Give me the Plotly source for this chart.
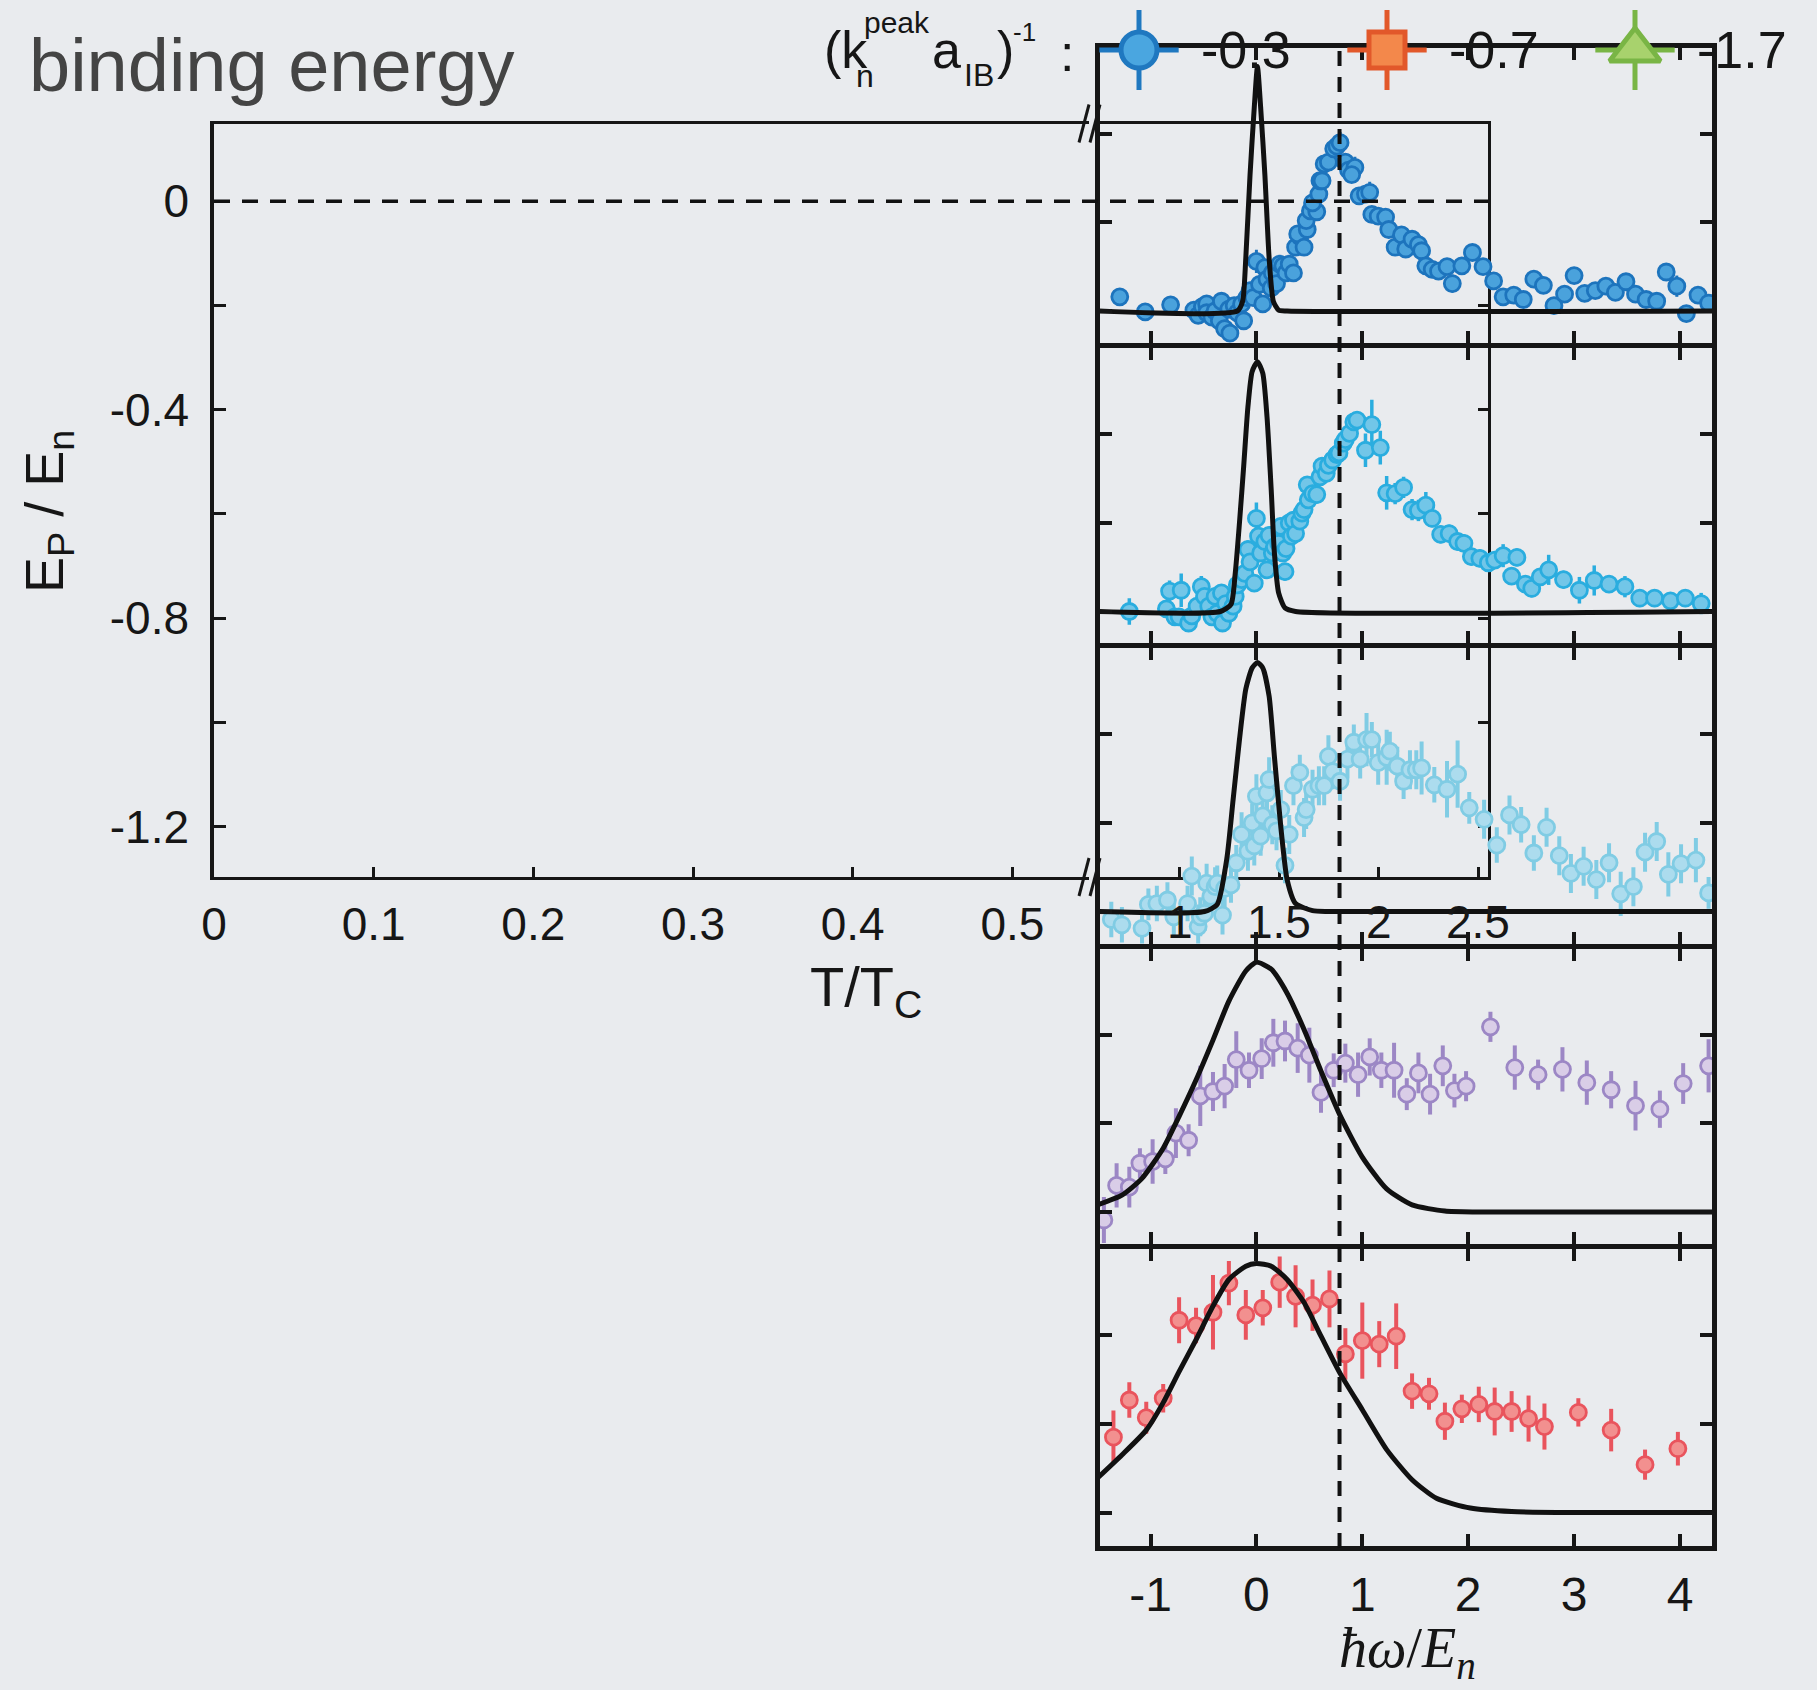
import plotly.graph_objects as go

W, H = 1817, 1690


def fx(p):
    return p / W


def fy(p):
    return 1 - p / H


# ---------------- data ----------------
T_TICKS_LEFT = [0, 0.1, 0.2, 0.3, 0.4, 0.5]
T_TICKS_RIGHT = [1, 1.5, 2, 2.5]
EP_TICKS = [-1.2, -1.0, -0.8, -0.6, -0.4, -0.2, 0.0]
EP_TICKTEXT = ["-1.2", "", "-0.8", "", "-0.4", "", "0"]
W_TICKS = [-1, 0, 1, 2, 3, 4]
SPEC_TICKS = [0, 1, 2]
DASH_OMEGA = 0.785          # vertical dashed marker on the spectra
LEGEND_VALUES = ["-0.3", "-0.7", "-1.7"]

# panel 1 (dark blue)
p1_x = [-1.29, -1.05, -0.81, -0.59, -0.55, -0.51, -0.47, -0.47, -0.42, -0.39,
        -0.35, -0.33, -0.30, -0.25, -0.26, -0.21, -0.18, -0.12, -0.14, -0.09,
        -0.06, -0.03, 0.00, 0.03, 0.06, 0.08, 0.10, 0.14, 0.15, 0.19,
        0.22, 0.25, 0.28, 0.31, 0.35, 0.37, 0.41, 0.39, 0.45, 0.48,
        0.47, 0.51, 0.57, 0.53, 0.59, 0.60, 0.62, 0.64, 0.68, 0.73,
        0.76, 0.79, 0.84, 0.87, 0.93, 0.90, 0.97, 1.03, 1.07, 1.09,
        1.15, 1.22, 1.25, 1.31, 1.37, 1.41, 1.47, 1.53, 1.56, 1.60,
        1.66, 1.72, 1.80, 1.85, 1.94, 2.04, 2.14, 2.24, 2.33, 2.43,
        2.52, 2.62, 2.71, 2.81, 2.91, 3.00, 3.10, 3.20, 3.30, 3.39,
        3.49, 3.58, 3.68, 3.78, 3.87, 3.97, 4.06, 4.17, 4.27]
p1_y = [0.16, -0.01, 0.07, 0.01, -0.05, 0.05, 0.08, -0.02, -0.07, 0.00,
        -0.11, 0.11, -0.20, -0.25, 0.02, 0.06, -0.02, -0.11, 0.08, 0.15,
        0.23, 0.15, 0.56, 0.30, 0.08, 0.49, 0.36, 0.26, 0.43, 0.31,
        0.53, 0.51, 0.43, 0.53, 0.43, 0.72, 0.84, 0.87, 0.72, 0.92,
        1.02, 1.13, 1.12, 1.22, 1.32, 1.47, 1.47, 1.66, 1.68, 1.83,
        1.86, 1.90, 1.68, 1.59, 1.62, 1.54, 1.30, 1.32, 1.34, 1.09,
        1.07, 1.06, 0.92, 0.72, 0.86, 0.70, 0.81, 0.75, 0.68, 0.51,
        0.47, 0.45, 0.50, 0.31, 0.51, 0.66, 0.50, 0.34, 0.16, 0.18,
        0.13, 0.36, 0.29, 0.06, 0.19, 0.40, 0.20, 0.23, 0.28, 0.21,
        0.33, 0.19, 0.13, 0.11, 0.44, 0.28, -0.03, 0.18, 0.09]
p1_e = [0.07, 0.09, 0.07, 0.06, 0.06, 0.06, 0.06, 0.06, 0.07, 0.07,
        0.07, 0.07, 0.07, 0.07, 0.06, 0.06, 0.06, 0.07, 0.07, 0.07,
        0.07, 0.07, 0.13, 0.08, 0.07, 0.08, 0.08, 0.08, 0.08, 0.08,
        0.08, 0.08, 0.08, 0.08, 0.08, 0.08, 0.08, 0.08, 0.08, 0.08,
        0.08, 0.08, 0.08, 0.08, 0.08, 0.08, 0.08, 0.08, 0.08, 0.09,
        0.09, 0.12, 0.09, 0.09, 0.12, 0.09, 0.09, 0.10, 0.12, 0.08,
        0.08, 0.08, 0.08, 0.08, 0.08, 0.09, 0.08, 0.08, 0.08, 0.08,
        0.08, 0.08, 0.08, 0.10, 0.08, 0.08, 0.08, 0.08, 0.08, 0.08,
        0.07, 0.08, 0.08, 0.07, 0.07, 0.08, 0.07, 0.08, 0.08, 0.07,
        0.08, 0.07, 0.07, 0.07, 0.08, 0.12, 0.08, 0.07, 0.07]

# panel 2 (cyan)
p2_x = [-1.20, -0.85, -0.82, -0.77, -0.73, -0.71, -0.64, -0.61, -0.56, -0.52,
        -0.49, -0.45, -0.42, -0.39, -0.37, -0.33, -0.32, -0.29, -0.26, -0.22,
        -0.20, -0.18, -0.14, -0.11, -0.08, -0.06, -0.02, 0.00, 0.02, 0.04,
        0.08, 0.10, 0.12, 0.15, 0.17, 0.21, 0.23, 0.25, 0.27, 0.28,
        0.31, 0.33, 0.35, 0.37, 0.41, 0.43, 0.45, 0.49, 0.48, 0.53,
        0.57, 0.60, 0.62, 0.66, 0.68, 0.72, 0.76, 0.78, 0.82, 0.84,
        0.88, 0.92, 0.95, 1.03, 1.09, 1.17, 1.23, 1.31, 1.39, 1.47,
        1.53, 1.60, 1.66, 1.74, 1.82, 1.90, 1.96, 2.03, 2.11, 2.19,
        2.25, 2.33, 2.41, 2.46, 2.54, 2.60, 2.68, 2.76, 2.90, 3.05,
        3.19, 3.33, 3.48, 3.62, 3.76, 3.91, 4.05, 4.20]
p2_y = [0.00, 0.03, 0.23, -0.06, -0.06, 0.24, -0.13, -0.05, 0.06, 0.28,
        0.17, 0.06, -0.06, 0.17, -0.02, 0.21, -0.13, 0.09, -0.02, 0.06,
        0.17, 0.30, 0.36, 0.43, 0.70, 0.56, 0.32, 1.05, 0.85, 0.66,
        0.79, 0.47, 0.86, 0.66, 0.73, 0.77, 0.96, 0.66, 0.45, 0.71,
        1.00, 0.85, 1.03, 0.88, 1.02, 1.11, 1.15, 1.26, 1.43, 1.33,
        1.32, 1.52, 1.64, 1.56, 1.65, 1.71, 1.77, 1.79, 1.90, 1.94,
        2.01, 2.14, 2.16, 1.82, 2.11, 1.85, 1.34, 1.33, 1.40, 1.15,
        1.14, 1.20, 1.05, 0.87, 0.88, 0.79, 0.77, 0.62, 0.60, 0.55,
        0.58, 0.63, 0.40, 0.61, 0.31, 0.26, 0.39, 0.47, 0.36, 0.24,
        0.35, 0.31, 0.28, 0.15, 0.15, 0.12, 0.15, 0.09]
p2_e = [0.15, 0.10, 0.12, 0.10, 0.10, 0.19, 0.10, 0.10, 0.10, 0.12,
        0.10, 0.10, 0.10, 0.10, 0.10, 0.10, 0.10, 0.10, 0.10, 0.10,
        0.10, 0.10, 0.10, 0.10, 0.10, 0.10, 0.10, 0.18, 0.10, 0.10,
        0.10, 0.10, 0.10, 0.10, 0.10, 0.10, 0.10, 0.10, 0.10, 0.10,
        0.10, 0.10, 0.10, 0.10, 0.10, 0.10, 0.10, 0.10, 0.10, 0.10,
        0.10, 0.10, 0.10, 0.10, 0.10, 0.10, 0.10, 0.10, 0.10, 0.10,
        0.10, 0.10, 0.10, 0.19, 0.28, 0.19, 0.19, 0.12, 0.12, 0.12,
        0.12, 0.15, 0.10, 0.10, 0.10, 0.10, 0.10, 0.10, 0.10, 0.10,
        0.10, 0.13, 0.10, 0.10, 0.10, 0.10, 0.10, 0.17, 0.10, 0.15,
        0.17, 0.10, 0.12, 0.10, 0.10, 0.10, 0.10, 0.12]

# panel 3 (light cyan)
p3_x = [-1.37, -1.27, -1.08, -1.02, -0.94, -0.84, -0.78, -0.65, -0.61, -0.55,
        -0.53, -0.49, -0.47, -0.43, -0.39, -0.37, -0.32, -0.30, -0.24, -0.19,
        -0.14, -0.08, -0.04, -0.02, 0.00, 0.04, 0.06, 0.10, 0.12, 0.15,
        0.19, 0.23, 0.27, 0.31, 0.35, 0.41, 0.45, 0.47, 0.53, 0.59,
        0.64, 0.68, 0.72, 0.79, 0.86, 0.92, 0.98, 1.04, 1.09, 1.15,
        1.23, 1.26, 1.33, 1.39, 1.45, 1.51, 1.56, 1.68, 1.80, 1.90,
        2.01, 2.15, 2.27, 2.39, 2.50, 2.62, 2.74, 2.86, 2.97, 3.09,
        3.21, 3.33, 3.44, 3.56, 3.67, 3.78, 3.89, 4.01, 4.15, 4.27]
p3_y = [-0.09, -0.15, -0.19, 0.08, 0.09, 0.13, -0.06, 0.09, 0.40, -0.17,
        -0.06, -0.02, 0.32, 0.17, 0.28, 0.32, -0.04, 0.26, 0.30, 0.55,
        0.87, 0.68, 1.00, 0.74, 1.30, 0.85, 1.08, 1.34, 1.49, 0.98,
        0.91, 1.15, 0.52, 0.87, 1.42, 1.57, 1.06, 1.15, 1.38, 1.42,
        1.42, 1.75, 1.58, 1.47, 1.72, 1.91, 1.72, 1.94, 1.94, 1.68,
        1.74, 1.81, 1.64, 1.47, 1.60, 1.60, 1.62, 1.43, 1.38, 1.55,
        1.17, 1.04, 0.75, 1.09, 0.98, 0.66, 0.95, 0.63, 0.43, 0.51,
        0.36, 0.55, 0.20, 0.28, 0.67, 0.79, 0.42, 0.54, 0.58, 0.21]
p3_e = [0.20, 0.20, 0.20, 0.18, 0.20, 0.20, 0.22, 0.20, 0.22, 0.25,
        0.22, 0.20, 0.22, 0.20, 0.22, 0.20, 0.22, 0.22, 0.20, 0.20,
        0.25, 0.22, 0.22, 0.22, 0.25, 0.22, 0.25, 0.22, 0.25, 0.22,
        0.22, 0.22, 0.20, 0.22, 0.22, 0.20, 0.22, 0.22, 0.22, 0.22,
        0.22, 0.24, 0.20, 0.22, 0.22, 0.20, 0.22, 0.30, 0.20, 0.25,
        0.31, 0.22, 0.22, 0.20, 0.22, 0.22, 0.30, 0.20, 0.32, 0.38,
        0.18, 0.22, 0.20, 0.22, 0.20, 0.20, 0.22, 0.22, 0.22, 0.22,
        0.22, 0.22, 0.25, 0.22, 0.22, 0.22, 0.25, 0.22, 0.25, 0.18]

# panel 4 (purple)
p4_x = [-1.44, -1.32, -1.20, -1.10, -0.98, -0.86, -0.76, -0.64, -0.53, -0.41,
        -0.30, -0.19, -0.07, 0.05, 0.16, 0.27, 0.39, 0.50, 0.61, 0.73,
        0.84, 0.96, 1.07, 1.18, 1.30, 1.42, 1.53, 1.64, 1.76, 1.87,
        1.98, 2.21, 2.44, 2.66, 2.89, 3.12, 3.35, 3.58, 3.81, 4.03, 4.27]
p4_y = [-0.09, 0.30, 0.28, 0.55, 0.57, 0.60, 0.89, 0.81, 1.31, 1.36,
        1.42, 1.72, 1.60, 1.73, 1.91, 1.93, 1.85, 1.77, 1.35, 1.60,
        1.68, 1.55, 1.75, 1.60, 1.60, 1.33, 1.57, 1.33, 1.65, 1.37,
        1.42, 2.09, 1.63, 1.55, 1.61, 1.46, 1.38, 1.20, 1.16, 1.45, 1.65]
p4_e = [0.26, 0.25, 0.23, 0.17, 0.25, 0.17, 0.28, 0.18, 0.34, 0.22,
        0.25, 0.32, 0.20, 0.23, 0.27, 0.23, 0.28, 0.31, 0.23, 0.19,
        0.22, 0.25, 0.21, 0.20, 0.31, 0.18, 0.23, 0.23, 0.23, 0.19,
        0.17, 0.17, 0.25, 0.17, 0.25, 0.25, 0.21, 0.28, 0.21, 0.23, 0.30]

# panel 5 (red)
p5_x = [-1.35, -1.20, -1.04, -0.88, -0.73, -0.57, -0.41, -0.26, -0.10, 0.06,
        0.22, 0.37, 0.53, 0.69, 0.84, 1.00, 1.16, 1.32, 1.47, 1.63,
        1.78, 1.94, 2.10, 2.25, 2.41, 2.57, 2.72, 3.04, 3.35, 3.67, 3.98]
p5_y = [0.85, 1.27, 1.07, 1.29, 2.17, 2.11, 2.26, 2.59, 2.23, 2.31,
        2.60, 2.44, 2.34, 2.41, 1.79, 1.94, 1.90, 1.99, 1.37, 1.34,
        1.03, 1.17, 1.22, 1.14, 1.14, 1.06, 0.97, 1.13, 0.93, 0.54, 0.72]
p5_e = [0.30, 0.20, 0.18, 0.16, 0.26, 0.20, 0.42, 0.25, 0.28, 0.20,
        0.29, 0.35, 0.29, 0.32, 0.29, 0.43, 0.26, 0.37, 0.20, 0.18,
        0.21, 0.16, 0.20, 0.27, 0.23, 0.26, 0.26, 0.16, 0.24, 0.17, 0.19]

# theory curves
c1_x = [-1.5, -0.18, -0.13, -0.10, -0.06, -0.02, 0.01, 0.04, 0.08, 0.12, 0.16, 0.21, 0.29, 4.32]
c1_y = [0, 0, 0.11, 0.60, 1.54, 2.30, 2.76, 2.30, 1.54, 0.60, 0.11, 0.01, 0, 0]
c2_x = [-1.5, -0.34, -0.24, -0.20, -0.16, -0.12, -0.08, -0.04, 0.01, 0.06, 0.10, 0.14, 0.17, 0.21, 0.27, 0.37, 4.32]
c2_y = [0, 0, 0.08, 0.43, 1.00, 1.64, 2.31, 2.71, 2.82, 2.69, 2.20, 1.37, 0.66, 0.21, 0.04, 0, 0]
c3_x = [-1.5, -0.49, -0.37, -0.28, -0.22, -0.16, -0.10, -0.04, 0.01, 0.06, 0.12, 0.17, 0.23, 0.29, 0.37, 0.53, 0.68, 4.32]
c3_y = [0, 0, 0.08, 0.59, 1.26, 1.94, 2.51, 2.75, 2.81, 2.75, 2.43, 1.75, 0.96, 0.36, 0.09, 0.01, 0, 0]
c4_x = [-1.5, -1.27, -1.08, -0.88, -0.73, -0.57, -0.41, -0.26, -0.10, 0.0, 0.14, 0.29, 0.45, 0.61, 0.79, 1.0, 1.23, 1.47, 1.78, 2.09, 4.32]
c4_y = [0.08, 0.19, 0.38, 0.72, 1.08, 1.49, 1.94, 2.38, 2.72, 2.82, 2.74, 2.47, 2.06, 1.59, 1.09, 0.62, 0.26, 0.08, 0.01, 0, 0]
c5_x = [-1.5, -1.27, -1.04, -0.88, -0.73, -0.57, -0.41, -0.26, -0.10, 0.0, 0.14, 0.29, 0.45, 0.61, 0.79, 1.0, 1.23, 1.47, 1.70, 2.02, 2.41, 3.03, 4.32]
c5_y = [0.39, 0.65, 0.93, 1.24, 1.59, 1.95, 2.33, 2.63, 2.78, 2.81, 2.78, 2.63, 2.37, 1.99, 1.57, 1.16, 0.71, 0.37, 0.16, 0.05, 0.01, 0, 0]

# ---------------- styling ----------------
FONT = "Liberation Sans, Arial, Helvetica, sans-serif"
INK = "#161616"
BG = "#e9ebee"

panels = [
    dict(x=p1_x, y=p1_y, e=p1_e, cx=c1_x, cy=c1_y, edge="#1d74bd", fill="#4aa2dc", et=3),
    dict(x=p2_x, y=p2_y, e=p2_e, cx=c2_x, cy=c2_y, edge="#2aaddf", fill="#72c6e8", et=3.5),
    dict(x=p3_x, y=p3_y, e=p3_e, cx=c3_x, cy=c3_y, edge="#80cce4", fill="#acdcee", et=4),
    dict(x=p4_x, y=p4_y, e=p4_e, cx=c4_x, cy=c4_y, edge="#9c87c5", fill="#d9cde7", et=4),
    dict(x=p5_x, y=p5_y, e=p5_e, cx=c5_x, cy=c5_y, edge="#e9545d", fill="#f2908f", et=4),
]
legend_styles = [
    dict(symbol="circle", size=36, edge="#1f78c0", fill="#4aa6e0"),
    dict(symbol="square", size=36, edge="#e2582a", fill="#f3884b"),
    dict(symbol="triangle-up", size=44, edge="#79b545", fill="#a8d26d"),
]

# geometry (pixels of the 1817x1690 canvas)
LEFT_L, LEFT_BRK, LEFT_R0, LEFT_R = 214, 1089, 1097, 1488
LEFT_TOP, LEFT_BOT = 123.5, 877
LEFT_LABEL_Y = 922
R_L, R_R = 1097, 1714.5
R_EDGES = [45, 345.5, 645.5, 946, 1246.5, 1548]
R_LW = 5
HALF = R_LW / 2

fig = go.Figure()

for k, p in enumerate(panels):
    ax = k + 3
    fig.add_trace(go.Scatter(
        x=p["x"], y=p["y"], mode="markers", xaxis=f"x{ax}", yaxis=f"y{ax}",
        marker=dict(size=16, color=p["fill"], line=dict(color=p["edge"], width=2.8)),
        error_y=dict(type="data", array=p["e"], visible=True, color=p["edge"],
                     thickness=p["et"], width=0),
        showlegend=False, hoverinfo="skip"))
    fig.add_trace(go.Scatter(
        x=p["cx"], y=p["cy"], mode="lines", xaxis=f"x{ax}", yaxis=f"y{ax}",
        line=dict(color="#111111", width=5, shape="spline", smoothing=0.6),
        showlegend=False, hoverinfo="skip"))

# legend glyphs (marker + line + error bar, MATLAB style)
for i, st in enumerate(legend_styles):
    fig.add_trace(go.Scatter(
        x=[i], y=[0], mode="markers", xaxis="x8", yaxis="y8",
        marker=dict(symbol=st["symbol"], size=st["size"], color=st["fill"],
                    line=dict(color=st["edge"], width=5)),
        error_x=dict(type="constant", value=0.16, color=st["edge"], thickness=5, width=0),
        error_y=dict(type="constant", value=1, color=st["edge"], thickness=5, width=0),
        showlegend=False, hoverinfo="skip"))

tickfont_left = dict(family=FONT, size=46, color=INK)
common_left = dict(showline=True, linecolor=INK, ticks="inside",
                   tickcolor=INK, tickwidth=3, showgrid=False, zeroline=False,
                   tickfont=tickfont_left, fixedrange=True, automargin=False)

layout = dict(
    width=W, height=H, autosize=False,
    margin=dict(l=0, r=0, t=0, b=0, pad=0, autoexpand=False),
    paper_bgcolor=BG, plot_bgcolor="rgba(0,0,0,0)",
    showlegend=False,
    xaxis=dict(domain=[fx(LEFT_L), fx(LEFT_BRK)], range=[0, 0.548], anchor="y",
               mirror=True, linewidth=3, ticklen=10, tickvals=T_TICKS_LEFT,
               ticktext=[f"{v:g}" for v in T_TICKS_LEFT], ticklabelstandoff=5,
               **common_left),
    yaxis=dict(domain=[fy(LEFT_BOT), fy(LEFT_TOP)], range=[-1.297, 0.149], anchor="x",
               mirror=False, linewidth=3.5, ticklen=12, tickvals=EP_TICKS, ticktext=EP_TICKTEXT,
               ticklabelstandoff=12, **common_left),
    xaxis2=dict(domain=[fx(LEFT_R0), fx(LEFT_R)], range=[0.585, 2.55], anchor="y2",
                mirror=True, linewidth=2.5, ticklen=10, tickvals=T_TICKS_RIGHT,
                showticklabels=False, **common_left),
    yaxis2=dict(domain=[fy(LEFT_BOT), fy(LEFT_TOP)], range=[-1.297, 0.149], anchor="x2",
                side="right", linewidth=2.5, ticklen=10, tickvals=EP_TICKS,
                showticklabels=False, **common_left),
    xaxis8=dict(domain=[fx(1015), fx(1759)], range=[-0.5, 2.5], anchor="y8",
                visible=False, fixedrange=True, automargin=False),
    yaxis8=dict(domain=[fy(90), fy(10)], range=[-1, 1], anchor="x8",
                visible=False, fixedrange=True, automargin=False),
)

# spectra axes: the axis line is drawn just outside the domain, so inset the
# domains by half a line width so that neighbouring frames share one line
PX_PER_W = 105.9          # pixels per unit of hbar*omega/E_n
W0_PX = 1256.4            # pixel column of hbar*omega = 0
PX_PER_S = 88.6           # pixels per unit of signal
for k in range(5):
    ax = k + 3
    top, bot = R_EDGES[k] + HALF, R_EDGES[k + 1] - HALF
    base = R_EDGES[k] + 266
    left, right = R_L + HALF, R_R - HALF
    layout[f"xaxis{ax}"] = dict(
        domain=[fx(left), fx(right)],
        range=[(left - W0_PX) / PX_PER_W, (right - W0_PX) / PX_PER_W], anchor=f"y{ax}",
        showline=True, linecolor=INK, linewidth=R_LW, mirror="ticks",
        ticks="inside", ticklen=12, tickwidth=4, tickcolor=INK,
        tickvals=W_TICKS, ticktext=[f"{v:g}" for v in W_TICKS],
        showticklabels=(k == 4), ticklabelstandoff=3,
        tickfont=dict(family=FONT, size=48, color=INK),
        showgrid=False, zeroline=False, fixedrange=True, automargin=False)
    layout[f"yaxis{ax}"] = dict(
        domain=[fy(bot), fy(top)],
        range=[-(bot - base) / PX_PER_S, (base - top) / PX_PER_S], anchor=f"x{ax}",
        showline=True, linecolor=INK, linewidth=R_LW, mirror="ticks",
        ticks="inside", ticklen=12, tickwidth=4, tickcolor=INK,
        tickvals=SPEC_TICKS, showticklabels=False,
        showgrid=False, zeroline=False, fixedrange=True, automargin=False)

fig.update_layout(**layout)

# ---------------- shapes ----------------
shapes = []
# zero line of the binding energy panel
shapes.append(dict(type="line", xref="paper", yref="y", x0=fx(LEFT_L), x1=fx(LEFT_R),
                   y0=0, y1=0, line=dict(color="#111111", width=3.5, dash="16px,12px")))
# vertical dashed marker through all spectra
shapes.append(dict(type="line", xref="x3", yref="paper", x0=DASH_OMEGA, x1=DASH_OMEGA,
                   y0=fy(R_EDGES[-1]), y1=fy(47),
                   line=dict(color="#111111", width=4, dash="15px,11px")))
# axis break marks "//"
for yc in (LEFT_TOP, LEFT_BOT):
    for xc in (1084, 1095):
        shapes.append(dict(type="line", xref="paper", yref="paper",
                           x0=fx(xc - 5), x1=fx(xc + 5), y0=fy(yc + 19), y1=fy(yc - 19),
                           line=dict(color=INK, width=3)))
fig.update_layout(shapes=shapes)

# ---------------- text ----------------
ann = []


def add_text(text, x, y, size, xanchor="left", color=INK, family=FONT, **kw):
    ann.append(dict(text=text, x=fx(x), y=fy(y), xref="paper", yref="paper",
                    xanchor=xanchor, yanchor="middle", showarrow=False,
                    font=dict(family=family, size=size, color=color), **kw))


add_text("binding energy", 27, 66, 74, color="#444444")
# legend prefix (k_n^peak a_IB)^-1 :
add_text("(k", 822, 50, 52)
add_text("n", 854, 76, 32)
add_text("peak", 862, 22, 30)
add_text("a", 930, 50, 52)
add_text("IB", 962, 75, 32)
add_text(")", 995, 50, 52)
add_text("-1", 1011, 32, 26)
add_text(":", 1058, 53, 52)
for i, lab in enumerate(LEGEND_VALUES):
    ann.append(dict(text=lab, x=i + 0.24, y=0, xref="x8", yref="y8",
                    xanchor="left", yanchor="middle", showarrow=False,
                    font=dict(family=FONT, size=52, color=INK)))
# tick labels of the T/Tc axis after the break (placed on that axis' scale)
for v in T_TICKS_RIGHT:
    ann.append(dict(text=f"{v:g}", x=v, y=fy(LEFT_LABEL_Y), xref="x2", yref="paper",
                    xanchor="center", yanchor="middle", showarrow=False,
                    font=tickfont_left))
# axis titles
add_text("E<sub>P</sub> / E<sub>n</sub>", 48, 512, 54, xanchor="center", textangle=-90)
add_text("T/T<sub>C</sub>", 866, 990, 56, xanchor="center")
add_text("<i>ħω</i>/<i>E<sub>n</sub></i>", 1407, 1652, 56, xanchor="center",
         family="Liberation Serif, DejaVu Serif, serif")

fig.update_layout(annotations=ann)

fig.write_html("out.html")
